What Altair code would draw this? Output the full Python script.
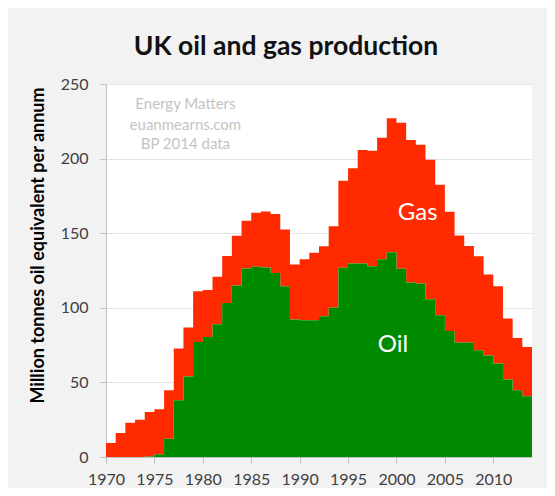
import altair as alt
import pandas as pd

years = list(range(1970, 2014))
oil = [0, 0, 0, 0, 0.4, 1.8, 12.3, 38.0, 54.0, 77.1,
       80.5, 89.0, 103.3, 115.0, 126.3, 127.5, 127.0, 123.4, 114.5, 92.1,
       91.7, 91.7, 94.4, 100.2, 126.8, 129.7, 129.7, 127.9, 132.6, 137.3,
       126.1, 117.0, 116.3, 105.8, 95.0, 84.5, 76.7, 76.7, 71.6, 68.0,
       62.6, 51.9, 44.7, 40.7]
gas = [9.4, 16.1, 23.0, 25.0, 29.8, 30.2, 32.4, 34.7, 32.8, 34.0,
       31.5, 31.8, 31.5, 33.3, 32.0, 36.2, 37.6, 39.4, 38.0, 36.9,
       40.9, 45.2, 46.9, 54.5, 58.4, 63.9, 76.0, 77.4, 81.4, 89.7,
       97.9, 95.4, 93.0, 93.4, 87.5, 79.9, 71.8, 64.8, 63.0, 54.3,
       51.9, 40.9, 35.1, 33.1]
x_ticks = [1970, 1975, 1980, 1985, 1990, 1995, 2000, 2005, 2010]
y_ticks = [0, 50, 100, 150, 200, 250]

note_lines = ["Energy Matters", "euanmearns.com", "BP 2014 data"]
note_x = [1978.2, 1978.2, 1978.2]
note_y = [236.4, 222.7, 209.6]

series_labels = ["Gas", "Oil"]
series_x = [2002.2, 1999.65]
series_y = [163.3, 74.9]

GREEN = "#008a00"
RED = "#ff2a00"
FONT = "Lato"

df = pd.DataFrame({"year": years, "oil": oil, "gas": gas})
df["total"] = df["oil"] + df["gas"]
# each year is a full-width step: close the last step at the end of 2013
last = df.iloc[[-1]].copy()
last["year"] = last["year"] + 1
steps = pd.concat([df, last], ignore_index=True)

notes = pd.DataFrame({"text": note_lines, "x": note_x, "y": note_y})
labels = pd.DataFrame({"text": series_labels, "x": series_x, "y": series_y})

x_scale = alt.Scale(domain=[1970, 2014], nice=False, zero=False)
y_scale = alt.Scale(domain=[0, 250], nice=False)

x_axis = alt.Axis(values=x_ticks, format="d", grid=False, title=None,
                  labelFont=FONT, labelFontSize=16, labelColor="#404040",
                  labelFlush=False, labelOverlap=False,
                  tickColor="#bfbfbf", tickSize=6, domainColor="#bfbfbf",
                  labelPadding=8)
y_axis = alt.Axis(values=y_ticks, grid=True, gridColor="#e3e3e3",
                  title="Million tonnes oil equivalent per annum",
                  titleFont=FONT, titleFontSize=18, titleFontWeight="bold",
                  titleColor="#000000", titleAngle=270, titleAlign="center",
                  titleBaseline="alphabetic", titleX=-63, titleY=161,
                  labelFont=FONT, labelFontSize=16, labelColor="#404040",
                  labelFlush=False,
                  tickColor="#bfbfbf", tickSize=6, domainColor="#bfbfbf",
                  labelPadding=12)

base = alt.Chart(steps)

gas_area = base.mark_area(color=RED, interpolate="step-after").encode(
    x=alt.X("year:Q", scale=x_scale, axis=x_axis),
    y=alt.Y("total:Q", scale=y_scale, axis=y_axis),
    y2="oil:Q",
)

oil_area = base.mark_area(color=GREEN, interpolate="step-after").encode(
    x=alt.X("year:Q", scale=x_scale),
    y=alt.Y("oil:Q", scale=y_scale),
)

note_text = alt.Chart(notes).mark_text(
    font=FONT, fontSize=15, color="#c4c4c4", align="center", baseline="middle"
).encode(
    x=alt.X("x:Q", scale=x_scale),
    y=alt.Y("y:Q", scale=y_scale),
    text="text:N",
)

label_text = alt.Chart(labels).mark_text(
    font=FONT, fontSize=24, color="#ffffff", align="center", baseline="middle"
).encode(
    x=alt.X("x:Q", scale=x_scale),
    y=alt.Y("y:Q", scale=y_scale),
    text="text:N",
)

chart = alt.layer(gas_area, oil_area, note_text, label_text).properties(
    width=426,
    height=373,
    background="#f2f2f2",
    padding={"left": 98, "top": 76, "right": 15, "bottom": 31},
    autosize=alt.AutoSizeParams(type="none"),
    title=alt.TitleParams(
        "UK oil and gas production", font=FONT, fontSize=26.5, fontWeight="bold",
        color="#111111", anchor="middle", frame="group", dx=-33, offset=16,
    ),
).configure_view(fill="#ffffff", stroke=None)

chart.save("out.html", embed_options={"renderer": "svg", "actions": False})
